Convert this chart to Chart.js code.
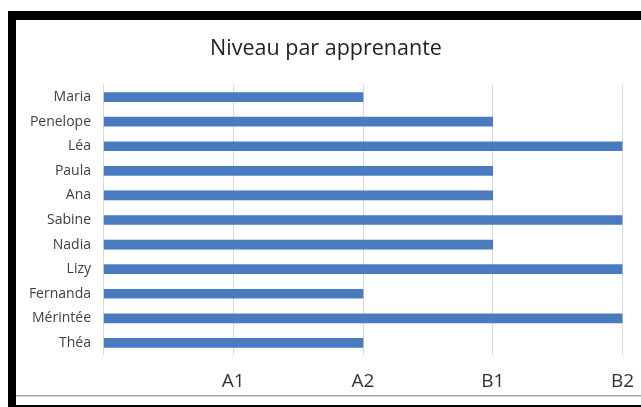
<!DOCTYPE html>
<html>
<head>
<meta charset="utf-8">
<script src="https://cdn.jsdelivr.net/npm/chart.js@4/dist/chart.umd.min.js"></script>
<style>
  html, body { margin: 0; padding: 0; background: #fff; width: 641px; height: 407px; overflow: hidden; }
  #frame { position: absolute; left: 8px; top: 11px; width: 633px; height: 396px; box-sizing: border-box;
           border-top: 9px solid #000; border-left: 8px solid #000; border-bottom: 2px solid #000; background: #fff; }
  #c { position: absolute; left: 16px; top: 20px; }
  #gl { position: absolute; left: 16px; top: 395px; width: 625px; height: 1px; background: #a6a6a6; }
  #gl2 { position: absolute; left: 16px; top: 396px; width: 625px; height: 1px; background: #d0d0d0; }
</style>
</head>
<body>
<div id="frame"></div>
<canvas id="c" width="625" height="376" style="width:625px;height:376px"></canvas>
<div id="gl"></div><div id="gl2"></div>
<script>
const learners = ['Maria', 'Penelope', 'Léa', 'Paula', 'Ana', 'Sabine', 'Nadia', 'Lizy', 'Fernanda', 'Mérintée', 'Théa'];
const levels = [2, 3, 4, 3, 3, 4, 3, 4, 2, 4, 2];
const levelLabels = ['', 'A1', 'A2', 'B1', 'B2'];
const chartTitle = 'Niveau par apprenante';

new Chart(document.getElementById('c'), {
  type: 'bar',
  data: {
    labels: learners,
    datasets: [{
      data: levels,
      backgroundColor: '#4a7bbf',
      borderWidth: 0,
      barThickness: 9
    }]
  },
  options: {
    indexAxis: 'y',
    responsive: false,
    animation: false,
    devicePixelRatio: 1,
    layout: { padding: { left: 0, right: 5, top: 0, bottom: 3 } },
    plugins: {
      legend: { display: false },
      tooltip: { enabled: false },
      title: {
        display: true,
        text: chartTitle,
        color: '#1f1f1f',
        font: { family: 'Open Sans', size: 21.5, weight: 'normal', lineHeight: 1.2 },
        padding: { top: 15.5, bottom: 23.5 }
      }
    },
    scales: {
      x: {
        min: 0,
        max: 4,
        ticks: {
          stepSize: 1,
          autoSkip: false,
          maxRotation: 0,
          padding: 15,
          color: '#333333',
          font: { family: 'Open Sans', size: 19, lineHeight: 1.2 },
          callback: (v) => levelLabels[v] ?? ''
        },
        grid: { color: '#d9d9d9', drawTicks: false },
        border: { display: false },
        afterFit: (s) => { s.paddingLeft = 0; s.paddingRight = 18.5; s.height = 37.8; }
      },
      y: {
        ticks: {
          padding: 12.5,
          color: '#404040',
          font: { family: 'Open Sans', size: 14 },
          autoSkip: false
        },
        grid: { display: false, drawTicks: false },
        border: { display: false },
        afterFit: (s) => { s.width = 87.5; s.paddingTop = 0; s.paddingBottom = 0; }
      }
    }
  }
});
</script>
</body>
</html>
